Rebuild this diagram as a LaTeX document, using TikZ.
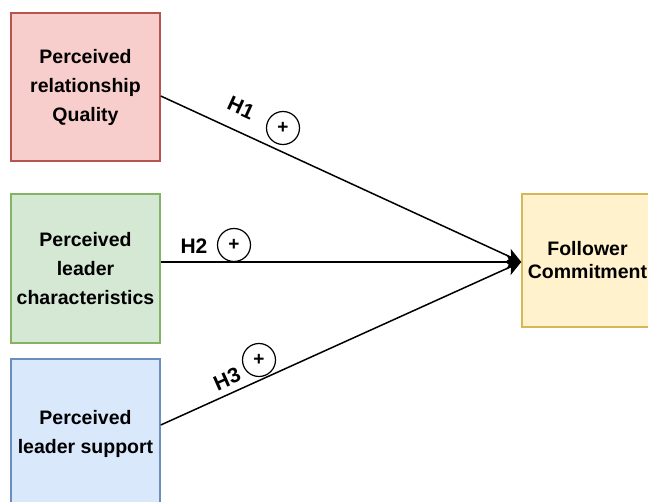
\documentclass[tikz,border=0pt]{standalone}
\usepackage{fontspec}
\setmainfont{Liberation Sans}
\usetikzlibrary{arrows.meta}
\definecolor{redfill}{HTML}{F8CECC}\definecolor{redline}{HTML}{B85450}
\definecolor{greenfill}{HTML}{D5E8D4}\definecolor{greenline}{HTML}{82B366}
\definecolor{bluefill}{HTML}{DAE8FC}\definecolor{blueline}{HTML}{6C8EBF}
\definecolor{yellowfill}{HTML}{FFF2CC}\definecolor{yellowline}{HTML}{D6B656}
\tikzset{
  box/.style={draw, line width=1.5pt, minimum width=149pt, minimum height=148pt, inner sep=0pt,
    align=center, font=\bfseries\fontsize{19.5}{29}\selectfont},
  hyp/.style={font=\bfseries\fontsize{21}{24}\selectfont, inner sep=0pt},
  plus/.style={draw, circle, line width=1.2pt, minimum size=33pt, inner sep=0pt,
    font=\bfseries\fontsize{19}{19}\selectfont},
  link/.style={line width=1.5pt, -{Stealth[length=15pt,width=15pt,inset=4pt]}},
}
\begin{document}
\begin{tikzpicture}[x=1pt,y=-1pt]
\useasboundingbox (0,0) rectangle (648,502);
\node[box, fill=redfill, draw=redline] (b1) at (85.5,87) {Perceived\\relationship\\Quality};
\node[box, fill=greenfill, draw=greenline, minimum height=149pt] (b2) at (85.5,268.5) {Perceived\\leader\\characteristics};
\node[box, fill=bluefill, draw=blueline, minimum height=150pt] (b3) at (85.5,434) {Perceived\\leader support};
\node[box, fill=yellowfill, draw=yellowline, minimum width=131pt, minimum height=133pt,
  font=\bfseries\fontsize{19.5}{23}\selectfont] (b4) at (587.5,260.5) {Follower\\Commitment};
\draw[link] ([yshift=-9pt]b1.east) -- ([yshift=-1.5pt]b4.west);
\draw[link] ([yshift=6.5pt]b2.east) -- ([yshift=-1.5pt]b4.west);
\draw[link] ([yshift=9pt]b3.east) -- ([yshift=-1.5pt]b4.west);
\node[hyp, rotate=-24.6] (h1) at (241,108) {H1};
\node[plus] (c1) at (283,128) {+};
\node[hyp] (h2) at (194,246) {H2};
\node[plus] (c2) at (234,245) {+};
\node[hyp, rotate=24] (h3) at (227,379) {H3};
\node[plus] (c3) at (259,360) {+};
\end{tikzpicture}
\end{document}
